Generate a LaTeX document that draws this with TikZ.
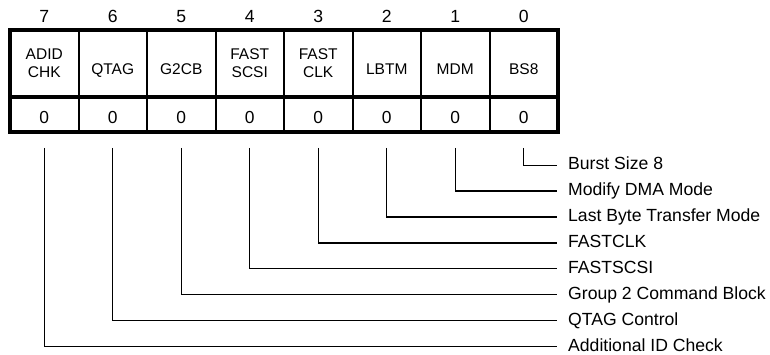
\documentclass[tikz,border=0pt]{standalone}
\usepackage{fontspec}
\setsansfont{Liberation Sans}
\usetikzlibrary{positioning, fit}
\tikzset{every picture/.style={/utils/exec={\sffamily}}}

\begin{document}
\begin{tikzpicture}	[
			x=1pt, y=1pt,
			field/.style={draw, line width=2pt, rectangle, align=center, inner sep=0pt, outer sep=0pt, minimum width=68.5pt, minimum height=67pt, font=\fontsize{15.5}{18.3}\selectfont},
			oneline/.style={text height=23pt, text depth=0pt},
			value/.style={draw, line width=2pt, rectangle, inner sep=0pt, outer sep=0pt, minimum width=68.5pt, minimum height=35pt, text height=19pt, text depth=0pt, font=\fontsize{17.4}{20}\selectfont},
			bitno/.style={inner sep=0pt, text depth=0pt, font=\fontsize{17.6}{20}\selectfont},
			desc/.style={inner sep=0pt, text height=13pt, text depth=4pt, font=\fontsize{17.6}{20}\selectfont},
			leader/.style={line width=1.3pt}
		]
			\useasboundingbox (0,0) rectangle (770,-355);

			\node (f7) [field] at (44.25,-63.5) {ADID\\CHK};
			\node (f6) [field, oneline, right=0pt of f7] {QTAG};
			\node (f5) [field, oneline, right=0pt of f6] {G2CB};
			\node (f4) [field, right=0pt of f5] {FAST\\SCSI};
			\node (f3) [field, right=0pt of f4] {FAST\\CLK};
			\node (f2) [field, oneline, right=0pt of f3] {LBTM};
			\node (f1) [field, oneline, right=0pt of f2] {MDM};
			\node (f0) [field, oneline, right=0pt of f1] {BS8};

			\node (v7) [value, below=0pt of f7] {0};
			\node (v6) [value, below=0pt of f6] {0};
			\node (v5) [value, below=0pt of f5] {0};
			\node (v4) [value, below=0pt of f4] {0};
			\node (v3) [value, below=0pt of f3] {0};
			\node (v2) [value, below=0pt of f2] {0};
			\node (v1) [value, below=0pt of f1] {0};
			\node (v0) [value, below=0pt of f0] {0};

			\node (n7) [bitno, above=7.5pt of f7] {7};
			\node (n6) [bitno, above=7.5pt of f6] {6};
			\node (n5) [bitno, above=7.5pt of f5] {5};
			\node (n4) [bitno, above=7.5pt of f4] {4};
			\node (n3) [bitno, above=7.5pt of f3] {3};
			\node (n2) [bitno, above=7.5pt of f2] {2};
			\node (n1) [bitno, above=7.5pt of f1] {1};
			\node (n0) [bitno, above=7.5pt of f0] {0};

			\node (reg) [draw, line width=4pt, inner sep=0pt, fit={(f7) (v0)}] {};
			\draw[line width=4pt] (f7.south west) -- (f0.south east);

			\node (d0) [desc, below right=24.5pt and 10pt of v0.south east] {Burst Size 8};
			\node (d1) [desc, below=8.5pt of d0.south west, anchor=north west] {Modify DMA Mode};
			\node (d2) [desc, below=8.5pt of d1.south west, anchor=north west] {Last Byte Transfer Mode};
			\node (d3) [desc, below=8.5pt of d2.south west, anchor=north west] {FASTCLK};
			\node (d4) [desc, below=8.5pt of d3.south west, anchor=north west] {FASTSCSI};
			\node (d5) [desc, below=8.5pt of d4.south west, anchor=north west] {Group 2 Command Block};
			\node (d6) [desc, below=8.5pt of d5.south west, anchor=north west] {QTAG Control};
			\node (d7) [desc, below=8.5pt of d6.south west, anchor=north west] {Additional ID Check};

			\draw[leader] ([yshift=-16pt]v0.south) |- ([xshift=-11pt]d0.west);
			\draw[leader] ([yshift=-16pt]v1.south) |- ([xshift=-11pt]d1.west);
			\draw[leader] ([yshift=-16pt]v2.south) |- ([xshift=-11pt]d2.west);
			\draw[leader] ([yshift=-16pt]v3.south) |- ([xshift=-11pt]d3.west);
			\draw[leader] ([yshift=-16pt]v4.south) |- ([xshift=-11pt]d4.west);
			\draw[leader] ([yshift=-16pt]v5.south) |- ([xshift=-11pt]d5.west);
			\draw[leader] ([yshift=-16pt]v6.south) |- ([xshift=-11pt]d6.west);
			\draw[leader] ([yshift=-16pt]v7.south) |- ([xshift=-11pt]d7.west);
		\end{tikzpicture}
\end{document}
